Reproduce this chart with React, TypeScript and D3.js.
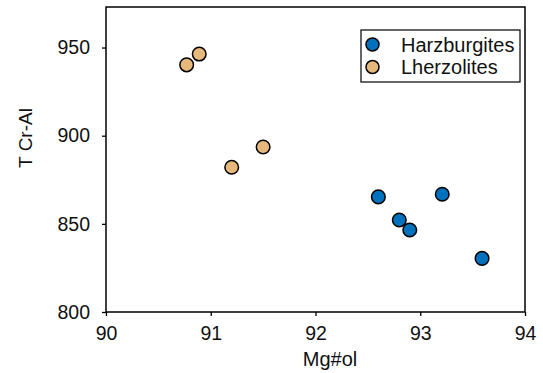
import { useEffect, useRef } from "react";
import * as d3 from "d3";

const harzX = [92.6, 92.8, 92.9, 93.21, 93.59];
const harzY = [865.3, 852.2, 846.5, 866.8, 830.4];
const lherzX = [90.77, 90.89, 91.2, 91.5];
const lherzY = [940.2, 946.3, 882.1, 893.6];
const seriesNames = ["Harzburgites", "Lherzolites"];
const seriesColors = ["#0071BC", "#E6B87C"];
const xTicks = [90, 91, 92, 93, 94];
const yTicks = [800, 850, 900, 950];

const W = 543;
const H = 373;
const margin = { left: 106, right: 18, top: 7, bottom: 61 };
const font = "'Liberation Sans', Arial, sans-serif";

export default function App() {
  const ref = useRef<SVGSVGElement>(null);

  useEffect(() => {
    const svg = d3.select(ref.current);
    svg.selectAll("*").remove();

    const x = d3.scaleLinear().domain([90, 94]).range([margin.left, W - margin.right]);
    const y = d3.scaleLinear().domain([800, 973]).range([H - margin.bottom, margin.top]);

    // frame
    svg.append("rect")
      .attr("x", margin.left)
      .attr("y", margin.top)
      .attr("width", W - margin.left - margin.right)
      .attr("height", H - margin.top - margin.bottom)
      .attr("fill", "none")
      .attr("stroke", "#000")
      .attr("stroke-width", 1.5);

    const xAxis = svg.append("g")
      .attr("transform", `translate(0,${H - margin.bottom})`)
      .call(d3.axisBottom(x).tickValues(xTicks).tickSize(4).tickPadding(10).tickFormat(d3.format("d")));
    const yAxis = svg.append("g")
      .attr("transform", `translate(${margin.left},0)`)
      .call(d3.axisLeft(y).tickValues(yTicks).tickSize(4).tickPadding(12).tickFormat(d3.format("d")));

    [xAxis, yAxis].forEach((g) => {
      g.select(".domain").remove();
      g.selectAll(".tick line").attr("stroke", "#000").attr("stroke-width", 1.3);
      g.selectAll(".tick text")
        .attr("fill", "#111")
        .style("font-family", font)
        .style("font-size", "19.5px");
    });

    svg.append("text")
      .attr("x", 330)
      .attr("y", 366)
      .attr("text-anchor", "middle")
      .style("font-family", font)
      .style("font-size", "20px")
      .attr("fill", "#111")
      .text("Mg#ol");

    svg.append("text")
      .attr("transform", "translate(32,138) rotate(-90)")
      .attr("text-anchor", "middle")
      .style("font-family", font)
      .style("font-size", "19px")
      .attr("fill", "#111")
      .text("T Cr-Al");

    const series = [
      { name: seriesNames[0], color: seriesColors[0], pts: harzX.map((v, i) => [v, harzY[i]]) },
      { name: seriesNames[1], color: seriesColors[1], pts: lherzX.map((v, i) => [v, lherzY[i]]) },
    ];

    series.forEach((s) => {
      svg.append("g")
        .selectAll("circle")
        .data(s.pts)
        .join("circle")
        .attr("cx", (d) => x(d[0]))
        .attr("cy", (d) => y(d[1]))
        .attr("r", 6.8)
        .attr("fill", s.color)
        .attr("stroke", "#000")
        .attr("stroke-width", 1.5);
    });

    // legend
    const lg = svg.append("g").attr("transform", "translate(361,30)");
    lg.append("rect")
      .attr("width", 159)
      .attr("height", 52)
      .attr("fill", "#fff")
      .attr("stroke", "#000")
      .attr("stroke-width", 1.2);
    series.forEach((s, i) => {
      const row = lg.append("g").attr("transform", `translate(0,${14.5 + i * 22.5})`);
      row.append("circle")
        .attr("cx", 11.5)
        .attr("r", 6.5)
        .attr("fill", s.color)
        .attr("stroke", "#000")
        .attr("stroke-width", 1.5);
      row.append("text")
        .attr("x", 40)
        .attr("dy", "0.35em")
        .style("font-family", font)
        .style("font-size", "20px")
        .attr("fill", "#111")
        .text(s.name);
    });
  }, []);

  return (
    <svg
      ref={ref}
      width={W}
      height={H}
      style={{ position: "absolute", left: 0, top: 0, background: "#fff" }}
    />
  );
}
